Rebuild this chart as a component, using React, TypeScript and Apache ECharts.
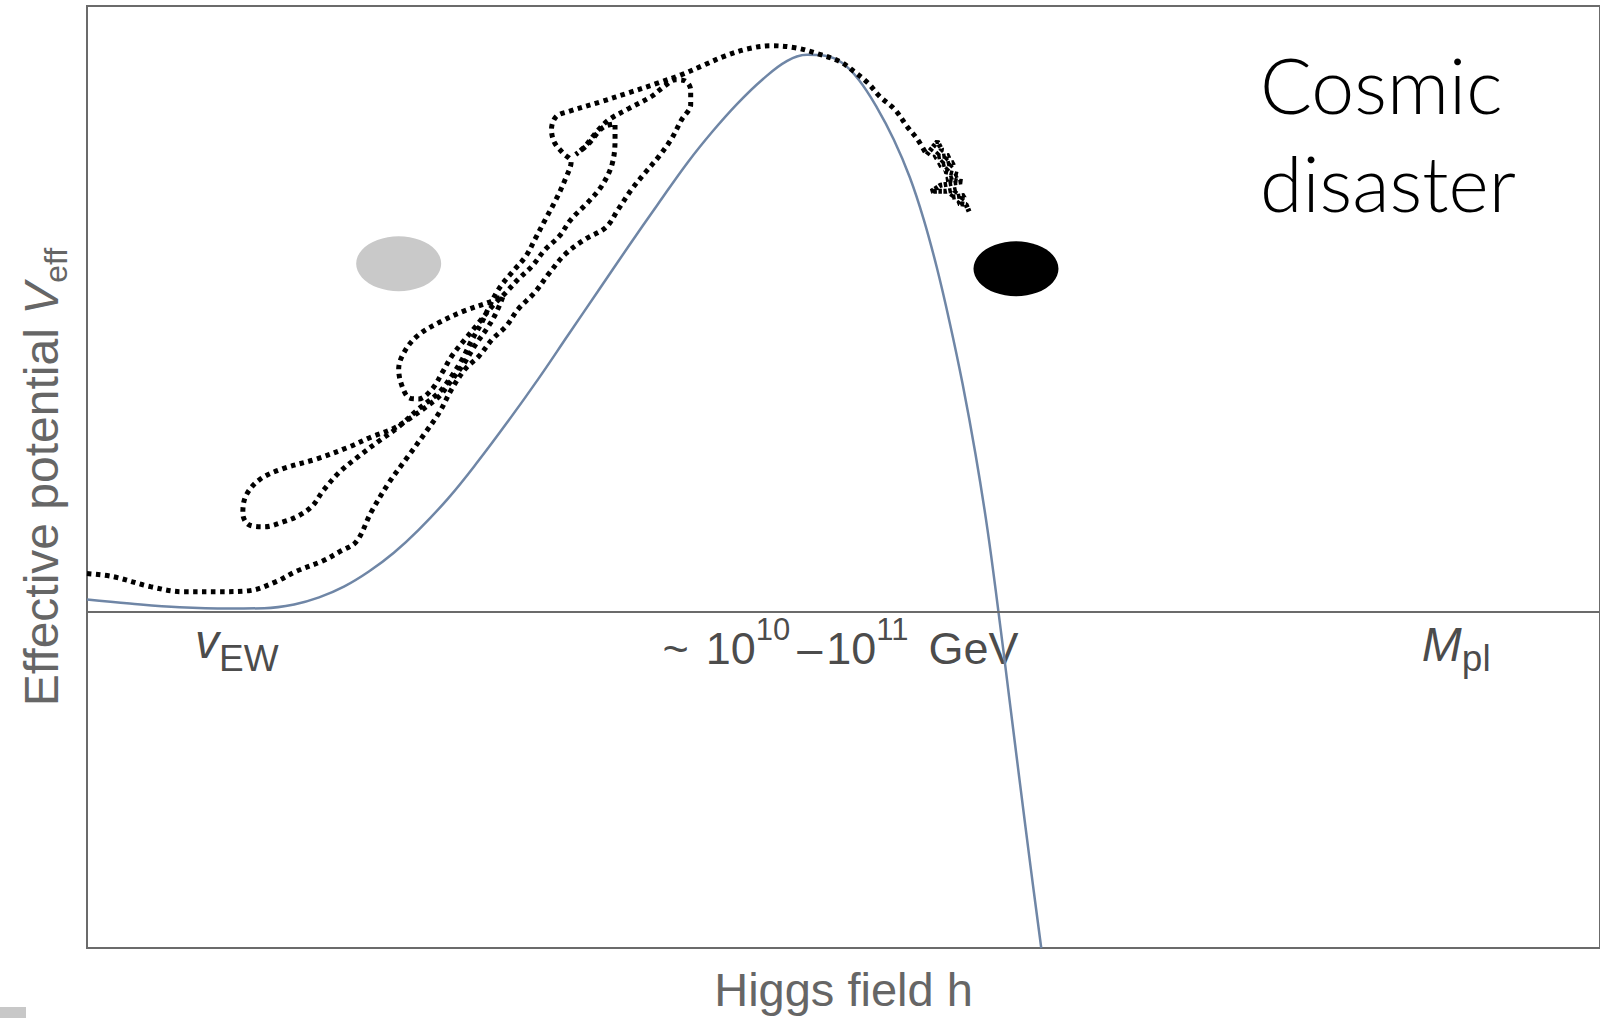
import { useEffect, useRef } from 'react';
import * as echarts from 'echarts';

// Effective potential V_eff(h): field h in arbitrary units 0–100, potential in arbitrary units
const potentialH = [0, 2.83, 6.12, 9.41, 11.72, 13.69, 15.34, 16.98, 18.63, 20.28, 21.92, 23.9, 25.87, 27.85, 29.82, 31.8, 33.77, 35.75, 37.72, 39.7, 41.34, 42.99, 44.63, 46.28, 47.6, 48.78, 49.9, 51.02, 52.21, 53.32, 54.38, 55.3, 56.16, 57.01, 57.87, 58.72, 59.51, 60.24, 60.96, 61.62, 62.34, 63.07];
const potentialV = [3.6, 2.4, 1.3, 0.9, 1.0, 2.1, 4.2, 7.4, 11.9, 17.5, 24.3, 33.8, 44.8, 56.7, 69.1, 82.2, 95.2, 108.3, 121.0, 133.5, 142.7, 151.0, 158.1, 163.7, 165.5, 165.2, 163.1, 158.0, 149.8, 140.3, 129.1, 116.6, 102.4, 86.1, 67.7, 46.9, 24.6, 0, -25.8, -49.5, -75.0, -100];

// Wandering trajectory of the field (h, V), drawn as a dotted line
const trajectory: [number, number][] = [
  [0, 11.3], [1.7, 10.4], [4.2, 7.4], [6.3, 5.9], [8.6, 5.9], [10.7, 6.2], [12.5, 8.9], [13.8, 11.9], [15.6, 15.1], [16.7, 17.8], [17.8, 20.8],
  [18.8, 29.7], [20.0, 38.6], [21.1, 45.4], [22.4, 53.4], [23.3, 59.3], [24.1, 66.1], [25.0, 72.1], [25.9, 75.9], [26.8, 81.0], [27.7, 84.8], [28.5, 89.9], [29.6, 94.9], [30.5, 100.3], [31.6, 106.2], [32.9, 110.6], [34.3, 114.2], [35.1, 119.5], [36.0, 125.5], [36.9, 130.5], [37.8, 135.3], [38.6, 140.3], [39.3, 146.2], [39.9, 150.7], [39.9, 155.1], [39.5, 157.8], [38.9, 158.1],
  [38.2, 156.3], [37.3, 153.1], [35.8, 149.5], [34.5, 146.2], [33.7, 142.7], [32.9, 138.2], [32.3, 135.9],
  [33.1, 138.8], [34.1, 143.9], [34.9, 145.0],
  [34.9, 140.3], [34.7, 132.9], [34.0, 126.4], [33.1, 121.6], [32.0, 116.6], [31.2, 111.5], [30.3, 107.7], [29.4, 102.6], [28.5, 98.8], [27.7, 94.9], [26.8, 90.8], [25.7, 84.8], [25.0, 81.0], [24.1, 75.9], [23.5, 71.2], [22.8, 66.1], [21.9, 63.2],
  [21.3, 63.5], [20.8, 67.3], [20.6, 72.1], [21.0, 77.4], [21.9, 82.2], [23.3, 86.0], [24.9, 89.3], [26.6, 92.0], [27.5, 93.7],
  [27.0, 88.4], [26.4, 83.9], [25.7, 79.5], [24.9, 73.6], [24.0, 68.2], [23.3, 64.1], [22.4, 60.8], [21.3, 57.3], [20.2, 54.3], [18.8, 51.9], [17.3, 48.9], [15.2, 45.4], [12.9, 42.4], [11.4, 39.2], [10.5, 34.4], [10.3, 29.1], [10.7, 25.8], [11.7, 25.2], [13.0, 26.7], [14.0, 28.5], [14.9, 31.4], [15.6, 35.9], [16.7, 41.5], [18.0, 46.3], [19.3, 50.7], [20.6, 54.9],
  [21.9, 60.2], [23.3, 65.3], [24.1, 70.0], [24.8, 75.0], [25.4, 80.4], [26.1, 86.0], [26.6, 90.8], [27.2, 95.8], [28.1, 100.9], [29.0, 105.6], [29.6, 110.6], [30.3, 116.6], [31.0, 122.5], [31.6, 128.4], [32.0, 133.8],
  [31.5, 136.1], [30.9, 139.4], [30.7, 143.3], [31.0, 147.1], [31.8, 148.6],
  [34.0, 151.6], [35.8, 154.2], [37.8, 157.2], [39.3, 159.6], [40.8, 162.5], [42.2, 165.2], [43.7, 167.3], [45.2, 168.2], [46.8, 167.6], [48.3, 165.8], [49.8, 163.4], [50.7, 160.5], [51.6, 157.2], [52.4, 153.1], [53.4, 149.2], [54.2, 144.2], [54.9, 140.3], [55.5, 135.8],
];

// Jittery settling of the trajectory past the barrier top
const settling: [number, number][] = [
  [55.5, 135.8], [56.2, 139.7], [56.5, 137.3], [56.0, 135.0], [57.0, 135.6], [56.3, 132.6], [57.3, 133.5], [56.7, 130.8], [57.6, 129.9], [56.8, 128.4], [57.9, 127.8], [56.4, 126.7], [55.8, 124.9], [56.8, 124.9], [57.5, 125.5], [57.1, 123.1], [58.0, 123.7], [57.6, 121.3], [58.1, 121.0], [58.3, 118.9],
];

// Two blobs: grey on the stable side, black on the unstable side
const blobPositions: [number, number][] = [[20.6, 103.4], [61.4, 101.9]];
const blobColors = ['#c9c9c9', '#000000'];

// Scale marks placed under the zero line
const scaleTicks = [9.9, 49.8, 90.5];
const scaleLabels = [
  '{v|v}{vs|EW}',
  '{t|~}{g|10}{gs|10}{d|\u2013}{g|10}{gs|11}{e|GeV}',
  '{m|M}{ms|pl}',
];

const FONT = "'Liberation Sans', Arial, Helvetica, sans-serif";
const INK = '#1a1a1a';

export default function App() {
  const ref = useRef<HTMLDivElement>(null);

  useEffect(() => {
    document.body.style.margin = '0';
    const chart = echarts.init(ref.current!, null, { renderer: 'svg' });
    chart.setOption({
      animation: false,
      backgroundColor: '#ffffff',
      grid: {
        left: 87, right: -6, top: 6, bottom: 68,
        show: true, borderColor: '#6b6b6b', borderWidth: 2, backgroundColor: 'transparent',
      },
      xAxis: {
        type: 'value', min: 0, max: 100, position: 'bottom',
        axisLine: { show: false, onZero: false },
        axisTick: { show: false }, axisLabel: { show: false }, splitLine: { show: false },
        name: 'Higgs field h', nameLocation: 'middle', nameGap: 18,
        nameTextStyle: { fontFamily: FONT, fontSize: 47, color: '#666666' },
      },
      yAxis: {
        type: 'value', min: -100, max: 180,
        axisLine: { show: false }, axisTick: { show: false }, axisLabel: { show: false }, splitLine: { show: false },
        name: '{n|Effective potential }{vi|V}{vs|eff}', nameLocation: 'middle', nameGap: 22,
        nameTextStyle: {
          rich: {
            n: { fontFamily: FONT, fontSize: 48, lineHeight: 48, color: '#666666' },
            vi: { fontFamily: FONT, fontSize: 48, fontStyle: 'italic', lineHeight: 48, color: '#666666' },
            vs: { fontFamily: FONT, fontSize: 32, height: 18, verticalAlign: 'bottom', color: '#666666' },
          },
        },
      },
      series: [
        {
          type: 'line', name: 'Veff',
          data: potentialH.map((h, i) => [h, potentialV[i]]),
          symbol: 'none', smooth: 0.4,
          lineStyle: { color: '#6f86a6', width: 2.5 },
          z: 2,
        },
        {
          type: 'line', name: 'trajectory',
          data: trajectory, symbol: 'none', smooth: 0.35,
          lineStyle: { color: '#000', width: 5, type: [4.5, 4.5], cap: 'butt' },
          z: 3,
        },
        {
          type: 'line', name: 'settling',
          data: settling, symbol: 'none', smooth: false,
          lineStyle: { color: '#000', width: 5, type: [3.5, 1.5], cap: 'butt' },
          z: 3,
        },
        {
          type: 'scatter', name: 'blobs',
          symbol: 'circle', symbolSize: [85, 55],
          data: blobPositions.map((p, i) => ({ value: p, itemStyle: { color: blobColors[i], opacity: 1 } })),
          z: 4,
        },
        {
          // zero line of the potential with the scale marks underneath
          type: 'scatter', name: 'scale', silent: true,
          symbolSize: 0,
          data: scaleTicks.map((h) => [h, 0]),
          label: {
            show: true, position: 'bottom', distance: 6,
            formatter: (p: any) => scaleLabels[p.dataIndex],
            rich: {
              v: { fontFamily: FONT, fontSize: 48, fontStyle: 'italic', lineHeight: 48, color: INK },
              vs: { fontFamily: FONT, fontSize: 37, height: 14, verticalAlign: 'bottom', color: INK },
              t: { fontFamily: FONT, fontSize: 45, lineHeight: 62, padding: [0, 17, 0, 0], color: INK },
              g: { fontFamily: FONT, fontSize: 45, lineHeight: 62, color: INK },
              d: { fontFamily: FONT, fontSize: 45, lineHeight: 62, padding: [0, 4, 0, 7], color: INK },
              e: { fontFamily: FONT, fontSize: 45, lineHeight: 62, padding: [0, 0, 0, 20], color: INK },
              gs: { fontFamily: FONT, fontSize: 31, height: 24, verticalAlign: 'top', color: INK },
              m: { fontFamily: FONT, fontSize: 48, fontStyle: 'italic', lineHeight: 54, color: INK },
              ms: { fontFamily: FONT, fontSize: 37, height: 26, verticalAlign: 'bottom', color: INK },
            },
          },
          markLine: {
            silent: true, symbol: 'none', label: { show: false },
            lineStyle: { color: '#6b6b6b', width: 2, type: 'solid' },
            data: [{ yAxis: 0 }],
          },
          z: 1,
        },
      ],
      graphic: [
        {
          type: 'text', left: 1260, top: 35,
          style: {
            text: 'Cosmic\ndisaster', fontFamily: 'Lato', fontWeight: 300,
            fontSize: 77, lineHeight: 98, fill: '#000',
          },
        },
        {
          type: 'rect', left: 0, top: 1007,
          shape: { width: 26, height: 11 }, style: { fill: '#c8c8c8' },
        },
      ],
    });
    return () => chart.dispose();
  }, []);

  return <div ref={ref} style={{ width: 1600, height: 1018 }} />;
}
